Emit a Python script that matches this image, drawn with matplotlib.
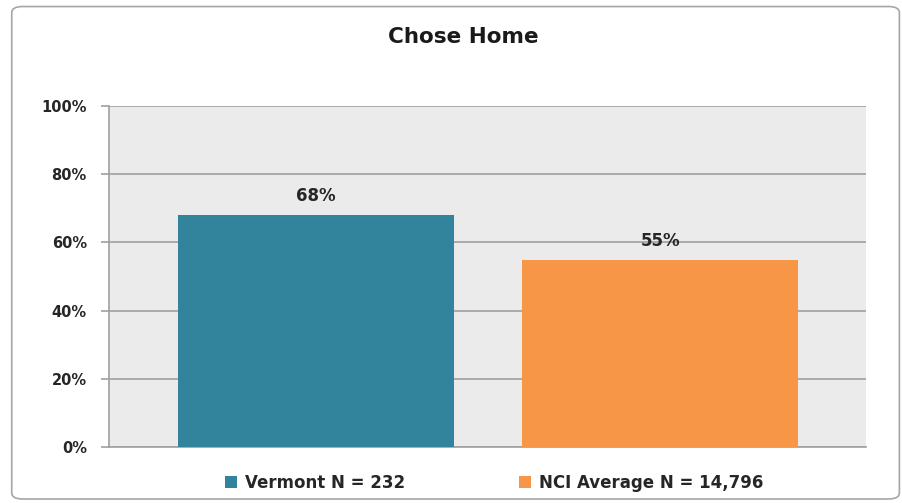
import matplotlib.pyplot as plt
from matplotlib.patches import FancyBboxPatch

# data
groups = ['Vermont N = 232', 'NCI Average N = 14,796']
values = [68, 55]
colors = ['#31849b', '#f79646']
yticks = [0, 20, 40, 60, 80, 100]

plt.rcParams['font.family'] = ['DejaVu Sans']

fig = plt.figure(figsize=(9.03, 5.03), dpi=100)
ax = fig.add_axes([0.1207, 0.1113, 0.8383, 0.6777])

# rounded outer frame
frame = FancyBboxPatch((0.013, 0.008), 0.983, 0.979, boxstyle='round,pad=0,rounding_size=0.012',
                       transform=fig.transFigure, fill=False, edgecolor='#a6a6a6', linewidth=1.2)
fig.patches.append(frame)

ax.set_facecolor('#ebebeb')
xpos = [0.547, 1.456]
bars = ax.bar(xpos, values, width=0.73, color=colors, label=groups, zorder=3)

for x, v in zip(xpos, values):
    ax.annotate(f'{v}%', (x, v), xytext=(0, 7), textcoords='offset points',
                ha='center', va='bottom', fontsize=12, fontweight='bold', color='#262626')

ax.set_xlim(0, 2)
ax.set_ylim(0, 100)
ax.set_yticks(yticks)
ax.set_yticklabels([f'{t}%' for t in yticks], fontsize=10.5, fontweight='bold', color='#262626')
ax.set_xticks([])
ax.grid(axis='y', color='#a0a0a0', linewidth=1.2, zorder=1)
ax.tick_params(axis='y', length=6, width=1.2, color='#a0a0a0', pad=10)
for s in ['top', 'right']:
    ax.spines[s].set_visible(False)
for s in ['left', 'bottom']:
    ax.spines[s].set_color('#a0a0a0')
    ax.spines[s].set_linewidth(1.2)

fig.text(0.513, 0.926, 'Chose Home', ha='center', va='center', fontsize=15.5,
         fontweight='bold', color='#1a1a1a')

leg = ax.legend(handles=bars, labels=groups, loc='upper center', bbox_to_anchor=(0.509, -0.035),
                ncol=2, frameon=False, handlelength=0.7, handleheight=0.7, handletextpad=0.5,
                columnspacing=6.8, prop={'size': 12, 'weight': 'bold'})
for t in leg.get_texts():
    t.set_color('#262626')

fig.savefig('out.png', dpi=100)
